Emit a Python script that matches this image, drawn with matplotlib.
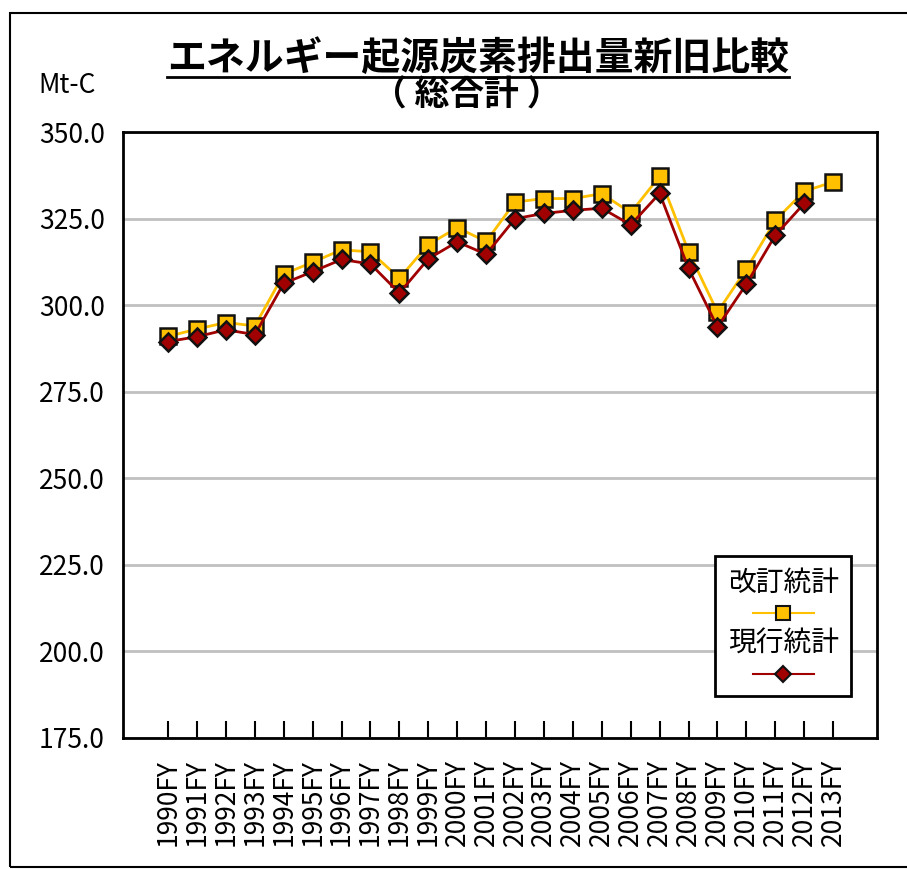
import matplotlib
matplotlib.use('Agg')
import matplotlib.pyplot as plt
from matplotlib.lines import Line2D
from matplotlib.patches import Rectangle
from matplotlib.offsetbox import TextArea, DrawingArea, VPacker, AnchoredOffsetbox

plt.rcParams['font.family'] = ['Noto Sans CJK JP', 'DejaVu Sans']

# Data
years = ['1990FY', '1991FY', '1992FY', '1993FY', '1994FY', '1995FY', '1996FY', '1997FY',
         '1998FY', '1999FY', '2000FY', '2001FY', '2002FY', '2003FY', '2004FY', '2005FY',
         '2006FY', '2007FY', '2008FY', '2009FY', '2010FY', '2011FY', '2012FY', '2013FY']
revised = [291.0, 293.1, 295.0, 294.0, 309.0, 312.4, 316.0, 315.4, 307.8, 317.5, 322.4, 318.4,
           329.8, 330.8, 330.8, 332.2, 326.7, 337.2, 315.5, 298.0, 310.4, 324.5, 332.9, 335.6]
current = [289.5, 290.9, 292.9, 291.5, 306.3, 309.7, 313.2, 311.9, 303.5, 313.4, 318.3, 314.7,
           325.0, 326.5, 327.4, 328.0, 323.2, 332.3, 310.6, 293.7, 306.1, 320.2, 329.4]
yticks = [175, 200, 225, 250, 275, 300, 325, 350]

gold = '#FFC000'
dred = '#A00000'

fig = plt.figure(figsize=(9.07, 8.69), dpi=100)
ax = fig.add_axes([0.1356, 0.1508, 0.8314, 0.6972])

# outer chart border
fig.add_artist(Rectangle((10 / 907, 2 / 869), 1.0, 1 - 15 / 869, transform=fig.transFigure,
                         fill=False, edgecolor='black', linewidth=1.5))

x = list(range(len(years)))
ax.plot(x, revised, color=gold, linewidth=2, marker='s', markersize=11,
        markerfacecolor=gold, markeredgecolor='#111111', markeredgewidth=1.8, zorder=3)
ax.plot(x[:len(current)], current, color=dred, linewidth=2, marker='D', markersize=9,
        markerfacecolor=dred, markeredgecolor='#111111', markeredgewidth=1.8, zorder=4)

ax.set_ylim(175, 350)
ax.set_xlim(-1.56, 24.52)
ax.set_yticks(yticks)
ax.set_yticklabels([f'{v:.1f}' for v in yticks])
ax.set_xticks(x)
ax.set_xticklabels(years, rotation=90)
ax.tick_params(axis='y', length=0, pad=13, labelsize=19)
ax.tick_params(axis='x', direction='in', length=12, width=1.5, pad=15, labelsize=19)
ax.yaxis.grid(True, color='#c0c0c0', linewidth=2)
ax.set_axisbelow(True)
for s in ax.spines.values():
    s.set_linewidth(2)
    s.set_color('black')

# legend: label above each sample
def sample(color, marker, ms):
    da = DrawingArea(44, 14, 0, 0)
    da.add_artist(Line2D([0, 44], [7, 7], color=color, linewidth=1.5))
    da.add_artist(Line2D([22], [7], marker=marker, markersize=ms, markerfacecolor=color,
                         markeredgecolor='#111111', markeredgewidth=1.5, linestyle='none'))
    return da

items = [TextArea('改訂統計', textprops=dict(fontsize=20)), sample(gold, 's', 10),
         TextArea('現行統計', textprops=dict(fontsize=20)), sample(dred, 'D', 8)]
pack = VPacker(children=items, align='center', pad=0, sep=4)
leg = AnchoredOffsetbox(loc='lower right', child=pack, pad=0.9, borderpad=0,
                        bbox_to_anchor=(0.966, 0.069), bbox_transform=ax.transAxes, frameon=True)
leg.patch.set_edgecolor('black')
leg.patch.set_linewidth(2)
leg.patch.set_boxstyle('square', pad=0)
ax.add_artist(leg)

fig.text(0.042, 0.902, 'Mt-C', fontsize=19, ha='left', va='center')
title = fig.text(0.527, 0.933, 'エネルギー起源炭素排出量新旧比較', fontsize=28,
                 fontweight='bold', ha='center', va='center')
fig.text(0.515, 0.891, '（ 総合計 ）', fontsize=25, fontweight='bold', ha='center', va='center')

# underline the title
fig.canvas.draw()
bb = title.get_window_extent()
fig.add_artist(Line2D([bb.x0, bb.x1], [bb.y0 + 1, bb.y0 + 1], color='black', linewidth=2,
                      transform=None))

fig.savefig('out.png', dpi=100)
